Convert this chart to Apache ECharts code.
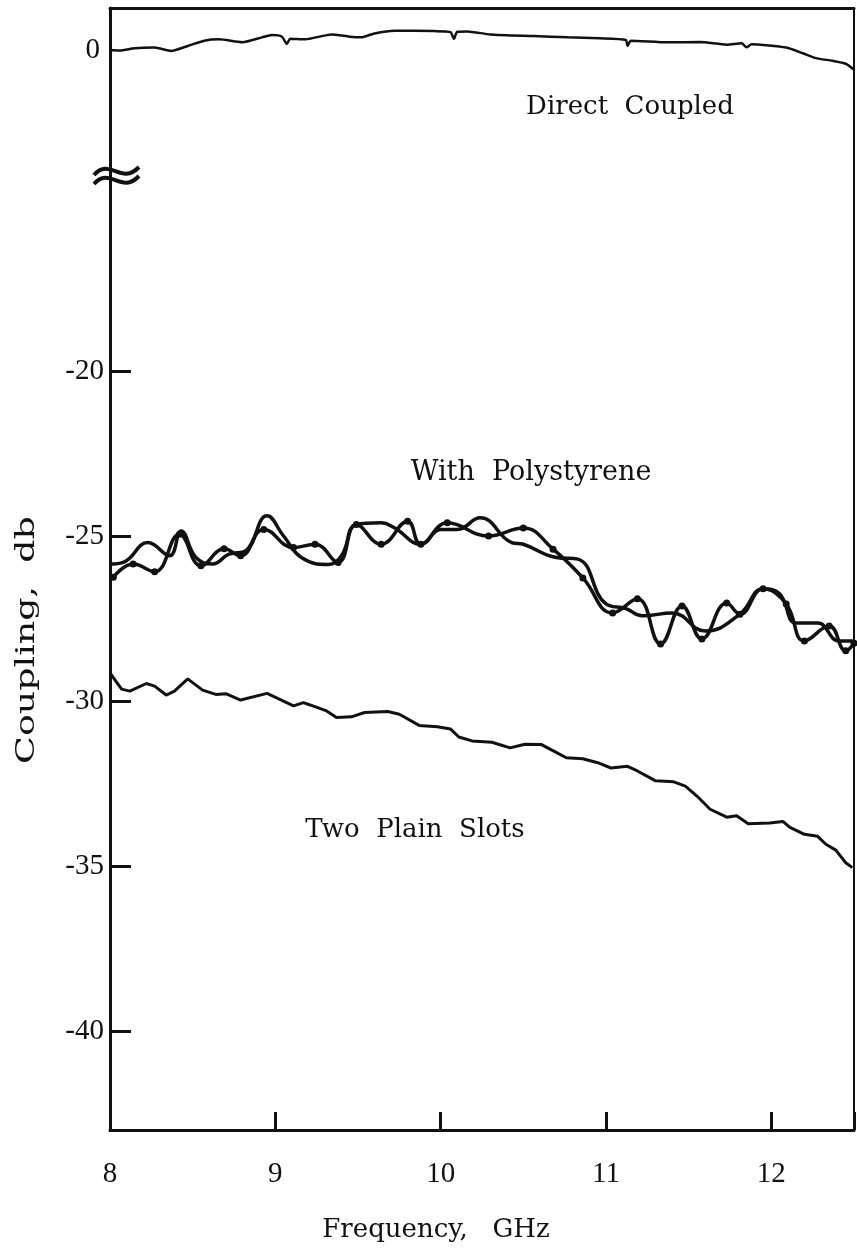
<!DOCTYPE html>
<html>
<head>
<meta charset="utf-8">
<script src="https://cdn.jsdelivr.net/npm/echarts@6.0.0/dist/echarts.min.js"></script>
<style>
  html, body { margin: 0; padding: 0; background: #fff; }
  #chart { width: 857px; height: 1257px; }
</style>
</head>
<body>
<div id="chart"></div>
<script>
// frequency axis (GHz) and coupling ticks (db)
const xTicks = [8, 9, 10, 11, 12];
const yTicksUpper = [0];
const yTicksLower = [-40, -35, -30, -25, -20];

// Direct Coupled (upper part of the broken axis)
const directF = [8.00, 8.06, 8.15, 8.27, 8.37, 8.47, 8.57, 8.66, 8.80, 8.92, 8.98, 9.04, 9.07, 9.09, 9.18, 9.34, 9.45, 9.52, 9.60, 9.72, 9.96, 10.06, 10.08, 10.10, 10.16, 10.30, 10.56, 10.77, 10.96, 11.12, 11.13, 11.15, 11.37, 11.57, 11.73, 11.82, 11.85, 11.88, 12.09, 12.19, 12.27, 12.37, 12.45, 12.50];
const directDb = [0.00, -0.02, 0.05, 0.07, -0.03, 0.12, 0.28, 0.32, 0.23, 0.38, 0.45, 0.40, 0.18, 0.34, 0.32, 0.47, 0.40, 0.38, 0.50, 0.58, 0.57, 0.54, 0.33, 0.55, 0.56, 0.47, 0.42, 0.38, 0.35, 0.30, 0.12, 0.28, 0.23, 0.24, 0.16, 0.20, 0.08, 0.17, 0.07, -0.10, -0.25, -0.33, -0.42, -0.60];

// With Polystyrene, smooth trace
const polyF = [8.00, 8.08, 8.23, 8.36, 8.43, 8.52, 8.62, 8.72, 8.82, 8.95, 9.05, 9.16, 9.32, 9.40, 9.49, 9.64, 9.72, 9.88, 10.00, 10.10, 10.24, 10.43, 10.50, 10.70, 10.83, 11.00, 11.12, 11.22, 11.40, 11.60, 11.81, 11.95, 12.05, 12.15, 12.28, 12.41, 12.50];
const polyDb = [-25.85, -25.80, -25.20, -25.60, -24.85, -25.65, -25.85, -25.55, -25.45, -24.39, -25.00, -25.66, -25.86, -25.60, -24.65, -24.60, -24.75, -25.25, -24.80, -24.80, -24.45, -25.20, -25.25, -25.65, -25.70, -27.06, -27.20, -27.42, -27.33, -27.88, -27.37, -26.60, -26.75, -27.64, -27.64, -28.18, -28.18];

// With Polystyrene, measured points
const polyDotF = [8.02, 8.14, 8.27, 8.42, 8.55, 8.69, 8.79, 8.93, 9.11, 9.24, 9.38, 9.49, 9.64, 9.80, 9.88, 10.04, 10.29, 10.50, 10.68, 10.86, 11.04, 11.19, 11.33, 11.46, 11.58, 11.73, 11.81, 11.95, 12.09, 12.20, 12.35, 12.45, 12.50];
const polyDotDb = [-26.25, -25.85, -26.08, -24.95, -25.90, -25.39, -25.60, -24.80, -25.35, -25.25, -25.80, -24.65, -25.25, -24.55, -25.25, -24.60, -25.00, -24.76, -25.40, -26.27, -27.33, -26.90, -28.27, -27.12, -28.12, -27.03, -27.37, -26.60, -27.06, -28.18, -27.73, -28.48, -28.25];

// Two Plain Slots
const slotsF = [8.00, 8.02, 8.07, 8.12, 8.22, 8.27, 8.34, 8.39, 8.47, 8.56, 8.64, 8.70, 8.79, 8.95, 9.11, 9.17, 9.21, 9.31, 9.37, 9.46, 9.54, 9.68, 9.75, 9.87, 9.98, 10.06, 10.11, 10.19, 10.31, 10.42, 10.51, 10.61, 10.67, 10.76, 10.86, 10.95, 11.03, 11.13, 11.19, 11.30, 11.41, 11.48, 11.55, 11.63, 11.73, 11.79, 11.86, 11.99, 12.07, 12.11, 12.20, 12.28, 12.33, 12.39, 12.45, 12.49];
const slotsDb = [-29.15, -29.29, -29.64, -29.70, -29.47, -29.55, -29.82, -29.70, -29.33, -29.67, -29.80, -29.78, -29.97, -29.77, -30.15, -30.05, -30.12, -30.30, -30.50, -30.48, -30.35, -30.32, -30.40, -30.74, -30.78, -30.85, -31.09, -31.21, -31.25, -31.42, -31.31, -31.32, -31.48, -31.72, -31.75, -31.87, -32.03, -31.98, -32.12, -32.42, -32.45, -32.58, -32.88, -33.28, -33.52, -33.48, -33.72, -33.70, -33.65, -33.82, -34.04, -34.10, -34.34, -34.52, -34.90, -35.05];

const zip = (xs, ys) => xs.map((x, i) => [x, ys[i]]);

const serif = "DejaVu Serif";
const numFont = "Liberation Serif";
const ink = "#111";

const chart = echarts.init(document.getElementById("chart"), null, { renderer: "canvas" });

const axisLine = (w) => ({ show: true, onZero: false, lineStyle: { color: ink, width: w } });

chart.setOption({
    backgroundColor: "#fff",
    animation: false,
    grid: [
        { left: 110, right: 3, top: 8, height: 165, outerBoundsMode: "none" },
        { left: 110, right: 3, top: 173, height: 957, outerBoundsMode: "none" }
    ],
    xAxis: [
        {
            gridIndex: 0, type: "value", min: 8, max: 12.5, position: "top",
            axisLine: axisLine(3), axisTick: { show: false }, axisLabel: { show: false }, splitLine: { show: false }
        },
        {
            gridIndex: 1, type: "value", min: 8, max: 12.5, interval: 1, position: "bottom",
            axisLine: axisLine(3),
            axisTick: { show: true, inside: true, length: 18, lineStyle: { color: ink, width: 3 } },
            axisLabel: { show: true, margin: 30, color: ink, fontFamily: numFont, fontSize: 29, formatter: v => xTicks.includes(v) ? String(v) : "" },
            splitLine: { show: false }
        }
    ],
    yAxis: [
        {
            gridIndex: 0, type: "value", min: -3.73, max: 1.27,
            axisLine: axisLine(3), axisTick: { show: false },
            axisLabel: { show: true, customValues: yTicksUpper, margin: 10, color: ink, fontFamily: numFont, fontSize: 29 },
            splitLine: { show: false }
        },
        {
            gridIndex: 1, type: "value", min: -43, max: -14,
            axisLine: axisLine(3),
            axisTick: { show: true, inside: true, length: 21, customValues: yTicksLower, lineStyle: { color: ink, width: 3 } },
            axisLabel: { show: true, customValues: yTicksLower, margin: 6, color: ink, fontFamily: numFont, fontSize: 29 },
            splitLine: { show: false }
        },
        {
            gridIndex: 0, type: "value", position: "right", min: 0, max: 1,
            axisLine: axisLine(2), axisTick: { show: false }, axisLabel: { show: false }, splitLine: { show: false }
        },
        {
            gridIndex: 1, type: "value", position: "right", min: 0, max: 1,
            axisLine: axisLine(2), axisTick: { show: false }, axisLabel: { show: false }, splitLine: { show: false }
        }
    ],
    series: [
        {
            name: "Direct Coupled", type: "line", xAxisIndex: 0, yAxisIndex: 0,
            data: zip(directF, directDb), symbol: "none", smooth: 0.2,
            lineStyle: { color: ink, width: 2.5 }
        },
        {
            name: "With Polystyrene", type: "line", xAxisIndex: 1, yAxisIndex: 1,
            data: zip(polyF, polyDb), symbol: "none", smooth: 0.45,
            lineStyle: { color: ink, width: 3.5 }
        },
        {
            name: "With Polystyrene (points)", type: "line", xAxisIndex: 1, yAxisIndex: 1,
            data: zip(polyDotF, polyDotDb), symbol: "circle", symbolSize: 7, smooth: 0.45,
            itemStyle: { color: ink }, lineStyle: { color: ink, width: 3.5 }
        },
        {
            name: "Two Plain Slots", type: "line", xAxisIndex: 1, yAxisIndex: 1,
            data: zip(slotsF, slotsDb), symbol: "none",
            lineStyle: { color: ink, width: 3 }
        }
    ],
    graphic: [
        // axis break mark
        { type: "bezierCurve", shape: { x1: 94, y1: 175, cpx1: 110, cpy1: 157, cpx2: 121, cpy2: 186, x2: 139, y2: 167 }, style: { stroke: ink, lineWidth: 4, fill: null } },
        { type: "bezierCurve", shape: { x1: 94, y1: 184, cpx1: 110, cpy1: 166, cpx2: 121, cpy2: 195, x2: 139, y2: 176 }, style: { stroke: ink, lineWidth: 4, fill: null } },
        { type: "text", x: 630, y: 107, style: { text: "Direct  Coupled", font: `26px "${serif}"`, fill: ink, textAlign: "center", textVerticalAlign: "middle" } },
        { type: "text", x: 531, y: 473, style: { text: "With  Polystyrene", font: `27px "${serif}"`, fill: ink, textAlign: "center", textVerticalAlign: "middle" } },
        { type: "text", x: 415, y: 830, style: { text: "Two  Plain  Slots", font: `26px "${serif}"`, fill: ink, textAlign: "center", textVerticalAlign: "middle" } },
        { type: "text", x: 436, y: 1230, style: { text: "Frequency,   GHz", font: `26px "${serif}"`, fill: ink, textAlign: "center", textVerticalAlign: "middle" } },
        { type: "text", x: 27, y: 640, rotation: Math.PI / 2, scaleX: 1.4, style: { text: "Coupling,  db", font: `26px "${serif}"`, fill: ink, textAlign: "center", textVerticalAlign: "middle" } }
    ]
});
</script>
</body>
</html>
